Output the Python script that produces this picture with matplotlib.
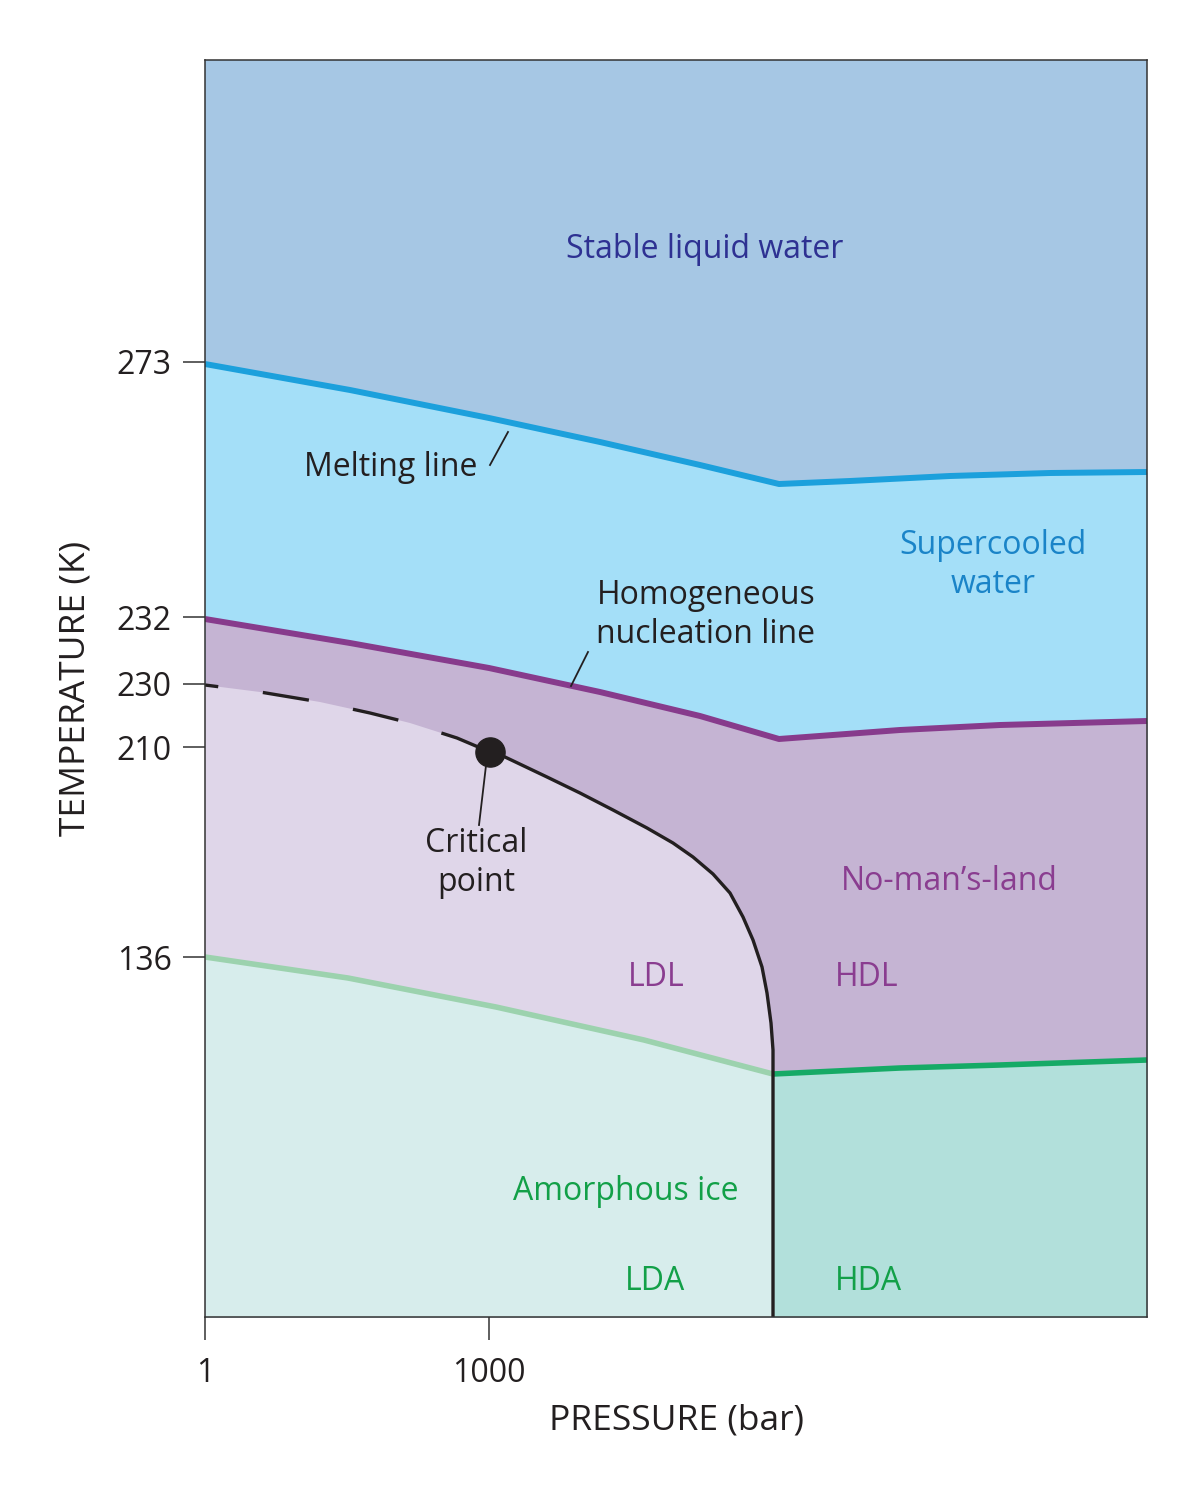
import numpy as np
import matplotlib
matplotlib.use("Agg")
import matplotlib.pyplot as plt

plt.rcParams["font.family"] = ["Open Sans", "DejaVu Sans"]

# schematic axes: x and y in arbitrary units (no linear physical scale)
x_ticks = [0, 284]
x_tick_labels = ["1", "1000"]
y_ticks = [955, 700, 633, 570, 360]
y_tick_labels = ["273", "232", "230", "210", "136"]

melt_x = [0, 145, 284, 395, 495, 574, 645, 745, 845, 942]
melt_y = [953, 927, 899, 875, 852, 833, 836, 841, 844, 845]

nucl_x = [0, 145, 284, 395, 495, 574, 695, 795, 942]
nucl_y = [698, 674, 649, 625, 601, 578, 587, 592, 596]

# liquid-liquid line (dashed above the critical point)
ll_x = [0, 55, 115, 165, 205, 252, 285, 300, 342, 375, 408, 442, 468, 488, 508,
        525, 538, 548, 557, 562, 566, 568, 568, 568]
ll_y = [632, 625, 615, 604, 594, 579, 565, 560, 540, 524, 507, 489, 474, 460, 443,
        424, 400, 377, 350, 324, 294, 267, 237, 0]
crit_idx = 6
ldl_end = 21

glass_lx = [0, 143, 291, 439, 568]
glass_ly = [360, 339, 310, 277, 243]
glass_rx = [568, 695, 795, 942]
glass_ry = [243, 249, 252, 257]

fig = plt.figure(figsize=(12, 14.94), dpi=100)
ax = fig.add_axes([205 / 1200, 177 / 1494, 942 / 1200, 1257 / 1494])
ax.set_xlim(0, 942)
ax.set_ylim(0, 1257)
ax.set_facecolor("#a6c7e4")

ax.fill_between(melt_x, melt_y, 0, color="#a4dff8", lw=0)
ax.fill_between(nucl_x, nucl_y, 0, color="#c5b4d3", lw=0)

# LDL pocket: liquid-liquid curve down to glass line, back along glass line
ldl_x = np.concatenate([ll_x[:ldl_end + 1], [568], glass_lx[::-1]])
ldl_y = np.concatenate([ll_y[:ldl_end + 1], [243], glass_ly[::-1]])
ax.fill(ldl_x, ldl_y, color="#dfd6e9", lw=0)

ax.fill_between(glass_lx, glass_ly, 0, color="#d7edec", lw=0)
ax.fill_between(glass_rx, glass_ry, 0, color="#b2e0db", lw=0)

ax.plot(melt_x, melt_y, color="#1ca0dc", lw=4.3, solid_capstyle="butt")
ax.plot(nucl_x, nucl_y, color="#873b8c", lw=4.3, solid_capstyle="butt")
ax.plot(glass_lx, glass_ly, color="#9cd2ae", lw=4.0, solid_capstyle="butt")
ax.plot(glass_rx, glass_ry, color="#16aa66", lw=4.0, solid_capstyle="butt")
ax.plot(ll_x[:crit_idx + 1], ll_y[:crit_idx + 1], color="#231f20", lw=2.4,
        linestyle=(10, (14, 13.5)))
ax.plot(ll_x[crit_idx:], ll_y[crit_idx:], color="#231f20", lw=2.4)
ax.plot(ll_x[crit_idx], ll_y[crit_idx], "o", color="#231f20", ms=21)

# leader lines
ax.plot([285, 303], [852, 885], color="#231f20", lw=1.3)
ax.plot([366, 383], [631, 665], color="#231f20", lw=1.3)
ax.plot([282, 274], [560, 492], color="#231f20", lw=1.3)

fs = 23
ls = 1.25
ax.text(500, 1067, "Stable liquid water", color="#2e3192", fontsize=fs, ha="center", va="center")
ax.text(186, 850, "Melting line", color="#231f20", fontsize=fs, ha="center", va="center")
ax.text(788, 752, "Supercooled\nwater", color="#1a84c8", fontsize=fs, ha="center", va="center",
        linespacing=ls)
ax.text(501, 702, "Homogeneous\nnucleation line", color="#231f20", fontsize=fs, ha="center",
        va="center", linespacing=ls)
ax.text(271, 454, "Critical\npoint", color="#231f20", fontsize=fs, ha="center", va="center",
        linespacing=ls)
ax.text(744, 435, "No-man\u2019s-land", color="#8a3d90", fontsize=fs, ha="center", va="center")
ax.text(451, 340, "LDL", color="#8a3d90", fontsize=fs, ha="center", va="center")
ax.text(662, 340, "HDL", color="#8a3d90", fontsize=fs, ha="center", va="center")
ax.text(421, 126, "Amorphous ice", color="#12a048", fontsize=fs, ha="center", va="center")
ax.text(450, 35, "LDA", color="#12a048", fontsize=fs, ha="center", va="center")
ax.text(663, 35, "HDA", color="#12a048", fontsize=fs, ha="center", va="center")

ax.set_xticks(x_ticks)
ax.set_xticklabels(x_tick_labels)
ax.set_yticks(y_ticks)
ax.set_yticklabels(y_tick_labels)
ax.tick_params(axis="x", length=16.5, width=1.1, pad=12, labelsize=fs, color="#333333",
               labelcolor="#231f20")
ax.tick_params(axis="y", length=16, width=1.1, pad=8, labelsize=fs, color="#333333",
               labelcolor="#231f20")
for s in ax.spines.values():
    s.set_linewidth(1.1)
    s.set_color("#333333")

ax.text(-0.137, 0.5, "TEMPERATURE (K)", transform=ax.transAxes, rotation=90,
        ha="center", va="center", fontsize=25.5, color="#231f20")
ax.text(0.501, -0.082, "PRESSURE (bar)", transform=ax.transAxes,
        ha="center", va="center", fontsize=25.5, color="#231f20")

fig.savefig("out.png", dpi=100)
